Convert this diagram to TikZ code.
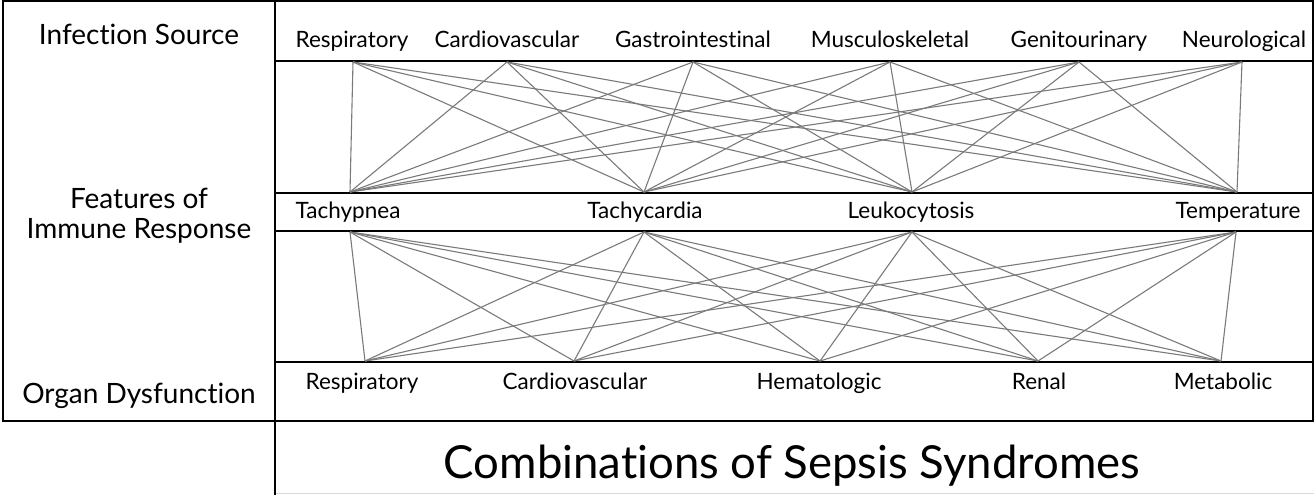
\documentclass[tikz,border=0pt]{standalone}
\usepackage{fontspec}
\setmainfont{Lato}[Ligatures=NoCommon]
\usetikzlibrary{positioning}

\begin{document}
\begin{tikzpicture}[
  x=1pt, y=-1pt,
  frame/.style={draw=black, line width=1.3pt},
  link/.style={draw=black!52, line width=1.1pt},
  item/.style={anchor=base, inner sep=0pt, font=\fontsize{22.5}{26}\selectfont},
  rowname/.style={anchor=base, inner sep=0pt, font=\fontsize{28}{32}\selectfont},
  title/.style={anchor=base, inner sep=0pt, font=\fontsize{45.5}{52}\selectfont}
]
\useasboundingbox (0,0) rectangle (1314,495);

% table frame
\draw[frame] (3,1) rectangle (275,421);
\draw[frame] (275,1) -- (1313,1) -- (1313,421) -- (275,421);
\draw[frame] (275,421) -- (275,495);
\draw[frame] (275,61) -- (1313,61);
\draw[frame] (275,193) -- (1313,193);
\draw[frame] (275,231) -- (1313,231);
\draw[frame] (275,362) -- (1313,362);
\draw[draw=black!15, line width=1pt] (276,493) -- (1314,493);

% row names
\node[rowname] (infection) at (139,45) {Infection Source};
\node[rowname] (features) at (139,208) {Features of};
\node[rowname] (immune) at (139,238) {Immune Response};
\node[rowname] (organ) at (139,403) {Organ Dysfunction};

% infection sources
\node[item] (srcResp) at (352,48) {Respiratory};
\node[item] (srcCardio) at (507,48) {Cardiovascular};
\node[item] (srcGastro) at (693,48) {Gastrointestinal};
\node[item] (srcMusc) at (890,48) {Musculoskeletal};
\node[item] (srcGenito) at (1079,48) {Genitourinary};
\node[item] (srcNeuro) at (1244,48) {Neurological};

% immune response features
\node[item] (tachypnea) at (348,218) {Tachypnea};
\node[item] (tachycardia) at (645,218) {Tachycardia};
\node[item] (leuko) at (911,218) {Leukocytosis};
\node[item] (temp) at (1238,218) {Temperature};

% organ dysfunction
\node[item] (orgResp) at (362,389) {Respiratory};
\node[item] (orgCardio) at (575,389) {Cardiovascular};
\node[item] (orgHema) at (819,389) {Hematologic};
\node[item] (orgRenal) at (1039,389) {Renal};
\node[item] (orgMeta) at (1223,389) {Metabolic};

\node[title] (syndromes) at (792,478) {Combinations of Sepsis Syndromes};

% link ends
\foreach \name/\px in {s1/353, s2/507, s3/693, s4/890, s5/1079, s6/1242}
  \coordinate (\name) at (\px,62);
\foreach \name/\px in {fa1/350, fa2/644, fa3/912, fa4/1237}
  \coordinate (\name) at (\px,192);
\foreach \name/\px in {fb1/350, fb2/644, fb3/912, fb4/1236}
  \coordinate (\name) at (\px,232);
\foreach \name/\px in {o1/365, o2/574, o3/820, o4/1038, o5/1221}
  \coordinate (\name) at (\px,361);

% every source to every feature, every feature to every organ
\foreach \i in {1,...,6}
  \foreach \j in {1,...,4}
    \draw[link] (s\i) -- (fa\j);
\foreach \j in {1,...,4}
  \foreach \k in {1,...,5}
    \draw[link] (fb\j) -- (o\k);
\end{tikzpicture}
\end{document}
